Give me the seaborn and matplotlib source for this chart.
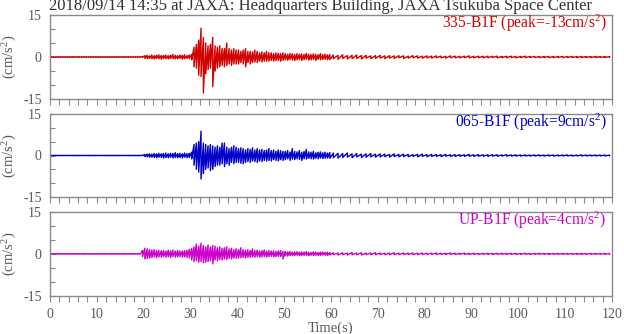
import numpy as np
import pandas as pd
import matplotlib
matplotlib.use("Agg")
import matplotlib.pyplot as plt
import seaborn as sns
from matplotlib.ticker import MultipleLocator, FixedLocator

# ---------------- data (envelope reads, cm/s^2) ----------------
# active part: 0.5 s bins from 0 to 60 s (120 bins); tail: 1 s bins from 60 to 120 s (60 bins)
title = "2018/09/14 14:35 at JAXA: Headquarters Building, JAXA Tsukuba Space Center"
names = ["335-B1F (peak=-13cm/s$^2$)", "065-B1F (peak=9cm/s$^2$)", "UP-B1F (peak=4cm/s$^2$)"]
colors = ["#d20000", "#0000c8", "#cc00cc"]

red_hi = ([0.05] * 40 +
          [0.5, 0.6, 0.4, 0.7, 0.5, 0.6, 0.8, 0.5, 0.6, 0.7, 0.5, 0.6, 0.9, 0.6, 0.5, 0.7, 0.6, 0.8, 0.5, 0.7] +
          [1.0, 3.5, 4.5, 6.0, 10.3, 7.0, 5.0, 4.0, 4.5, 7.0, 4.0, 3.5, 4.0, 3.0, 3.0, 5.0, 3.0, 2.5, 3.0, 2.5] +
          [2.5, 2.0, 2.5, 3.0, 2.0, 2.0, 1.8, 2.5, 2.0, 1.5, 1.8, 1.5, 2.0, 1.5, 1.5, 1.2, 1.5, 1.3, 1.2, 1.5] +
          [1.2, 1.0, 1.3, 1.1, 0.9, 1.2, 1.0, 1.1, 0.9, 1.3, 1.0, 0.9, 1.1, 1.0, 0.8, 1.2, 0.9, 1.0, 0.8, 0.9])
red_lo = ([-0.05] * 40 +
          [-0.5, -0.6, -0.5, -0.6, -0.7, -0.5, -0.6, -0.8, -0.5, -0.6, -0.7, -0.5, -0.6, -0.7, -0.6, -0.5, -0.8, -0.6, -0.5, -0.6] +
          [-1.0, -3.5, -4.0, -6.5, -7.0, -12.8, -6.0, -4.5, -4.0, -10.6, -5.0, -4.0, -3.5, -3.0, -3.5, -3.0, -2.5, -3.0, -2.5, -2.5] +
          [-2.5, -2.0, -2.5, -3.5, -2.0, -2.5, -2.0, -1.8, -2.0, -1.5, -1.8, -1.5, -1.5, -1.5, -1.2, -1.5, -1.3, -1.2, -1.5, -1.2] +
          [-1.0, -1.2, -0.9, -1.1, -1.3, -1.0, -0.9, -1.2, -1.0, -0.8, -1.1, -1.0, -0.9, -1.2, -0.8, -1.0, -0.9, -0.8, -1.0, -0.9])
red_tail_hi = [0.7, 0.6, 0.8, 0.5, 0.6, 0.7, 0.5, 0.6, 0.4, 0.5, 0.6, 0.4, 0.5, 0.4, 0.5, 0.4, 0.3, 0.5, 0.4, 0.3,
               0.4, 0.3, 0.4, 0.3, 0.25, 0.4, 0.3, 0.25, 0.3, 0.4, 0.25, 0.3, 0.25, 0.3, 0.25, 0.3, 0.2, 0.25, 0.3, 0.2,
               0.2, 0.3, 0.2, 0.2, 0.15, 0.2, 0.2, 0.15, 0.2, 0.2, 0.15, 0.2, 0.15, 0.2, 0.15, 0.15, 0.2, 0.15, 0.15, 0.15]
red_tail_lo = [-0.6, -0.8, -0.5, -0.7, -0.6, -0.5, -0.7, -0.4, -0.6, -0.5, -0.4, -0.6, -0.4, -0.5, -0.3, -0.5, -0.4, -0.3, -0.4, -0.4,
               -0.3, -0.4, -0.25, -0.3, -0.4, -0.25, -0.3, -0.3, -0.25, -0.3, -0.3, -0.25, -0.3, -0.25, -0.2, -0.3, -0.2, -0.25, -0.2, -0.3,
               -0.2, -0.2, -0.15, -0.2, -0.2, -0.15, -0.2, -0.2, -0.15, -0.2, -0.15, -0.15, -0.2, -0.15, -0.15, -0.2, -0.15, -0.15, -0.15, -0.15]

blue_hi = ([0.05] * 40 +
           [0.4, 0.5, 0.6, 0.5, 0.7, 0.6, 0.8, 0.6, 0.7, 0.9, 0.6, 0.8, 0.7, 1.0, 0.7, 0.8, 0.6, 0.9, 0.7, 0.8] +
           [1.2, 4.0, 4.5, 5.0, 8.8, 4.5, 4.0, 3.5, 4.0, 3.5, 3.0, 3.5, 3.0, 4.5, 4.5, 3.0, 2.5, 3.0, 3.5, 3.0] +
           [2.5, 2.8, 2.5, 2.0, 2.5, 2.2, 2.8, 2.0, 2.5, 2.0, 2.2, 1.8, 2.0, 2.5, 1.8, 2.0, 1.5, 2.0, 1.8, 1.5] +
           [1.5, 1.8, 1.2, 2.5, 1.5, 1.3, 1.8, 1.2, 1.5, 2.2, 1.3, 1.2, 1.5, 1.0, 1.2, 1.3, 1.0, 1.2, 0.9, 1.1])
blue_lo = ([-0.05] * 40 +
           [-0.4, -0.5, -0.6, -0.6, -0.7, -0.8, -0.6, -0.7, -0.9, -0.7, -0.8, -0.6, -0.9, -0.7, -0.8, -0.7, -0.9, -0.6, -0.8, -0.7] +
           [-1.2, -3.5, -5.0, -6.0, -8.5, -6.5, -5.0, -4.5, -5.5, -5.0, -4.0, -3.5, -3.5, -3.0, -4.0, -3.0, -3.5, -2.5, -3.0, -2.5] +
           [-2.5, -2.8, -3.0, -2.5, -2.2, -2.5, -2.0, -2.2, -2.5, -2.0, -2.2, -1.8, -2.0, -1.8, -2.0, -1.5, -1.8, -2.0, -1.5, -1.8] +
           [-1.5, -1.2, -1.8, -1.3, -1.5, -1.2, -1.4, -1.8, -1.2, -1.3, -1.0, -1.2, -1.3, -1.0, -1.2, -0.9, -1.1, -1.0, -0.9, -1.0])
blue_tail_hi = [0.9, 0.8, 0.7, 0.9, 0.6, 0.7, 0.5, 0.6, 0.7, 0.5, 0.6, 0.5, 0.4, 0.6, 0.4, 0.5, 0.4, 0.3, 0.4, 0.5,
                0.3, 0.4, 0.3, 0.3, 0.4, 0.25, 0.3, 0.3, 0.25, 0.4, 0.25, 0.3, 0.25, 0.25, 0.3, 0.25, 0.2, 0.3, 0.2, 0.2,
                0.2, 0.2, 0.15, 0.2, 0.2, 0.15, 0.2, 0.2, 0.15, 0.15, 0.2, 0.15, 0.15, 0.2, 0.15, 0.15, 0.15, 0.15, 0.15, 0.15]
blue_tail_lo = [-0.8, -0.9, -0.7, -0.6, -0.8, -0.5, -0.7, -0.6, -0.5, -0.6, -0.5, -0.4, -0.6, -0.4, -0.5, -0.4, -0.4, -0.3, -0.5, -0.3,
                -0.4, -0.3, -0.3, -0.4, -0.25, -0.3, -0.3, -0.25, -0.3, -0.25, -0.3, -0.25, -0.25, -0.3, -0.2, -0.25, -0.2, -0.2, -0.2, -0.2,
                -0.2, -0.15, -0.2, -0.2, -0.15, -0.2, -0.15, -0.2, -0.15, -0.15, -0.15, -0.2, -0.15, -0.15, -0.15, -0.15, -0.15, -0.15, -0.15, -0.15]

mag_hi = ([0.05] * 39 + [1.2] +
          [2.0, 1.8, 1.6, 1.4, 1.5, 1.2, 1.3, 1.1, 1.2, 1.0, 1.3, 1.1, 1.4, 1.0, 1.2, 1.1, 1.0, 1.2, 1.3, 1.6] +
          [2.0, 2.5, 3.5, 2.8, 3.8, 3.0, 2.5, 3.2, 2.5, 3.0, 2.8, 2.2, 2.5, 2.0, 2.2, 2.5, 1.8, 2.0, 1.5, 1.8] +
          [1.5, 2.2, 1.5, 1.3, 1.5, 1.2, 1.8, 1.2, 1.3, 1.0, 1.2, 1.4, 1.0, 1.2, 1.0, 1.1, 0.9, 1.0, 1.2, 0.9] +
          [0.8, 0.7, 0.9, 0.6, 0.7, 0.8, 0.6, 0.7, 0.6, 0.8, 0.6, 0.5, 0.7, 0.6, 0.5, 0.6, 0.7, 0.5, 0.6, 0.5])
mag_lo = ([-0.05] * 39 + [-1.0] +
          [-1.8, -1.7, -1.5, -1.3, -1.2, -1.4, -1.1, -1.2, -1.0, -1.2, -1.1, -1.3, -1.0, -1.2, -1.1, -1.0, -1.2, -1.1, -1.3, -1.5] +
          [-2.2, -2.8, -2.5, -3.0, -2.8, -3.2, -3.0, -2.8, -2.5, -3.6, -2.2, -2.5, -2.0, -2.2, -1.8, -2.0, -1.6, -1.8, -1.5, -1.6] +
          [-1.5, -1.4, -1.3, -1.5, -1.2, -1.3, -1.1, -1.2, -1.0, -1.2, -1.1, -1.0, -1.2, -1.0, -0.9, -1.1, -1.0, -0.9, -1.0, -1.8] +
          [-0.7, -0.8, -0.6, -0.7, -0.6, -0.5, -0.7, -0.6, -0.5, -0.6, -0.7, -0.5, -0.6, -0.5, -0.6, -0.5, -0.4, -0.5, -0.6, -0.4])
mag_tail_hi = [0.4, 0.3, 0.4, 0.3, 0.5, 0.3, 0.4, 0.3, 0.3, 0.4, 0.3, 0.25, 0.3, 0.4, 0.25, 0.3, 0.25, 0.3, 0.25, 0.3,
               0.25, 0.25, 0.3, 0.25, 0.2, 0.3, 0.25, 0.2, 0.25, 0.2, 0.2, 0.15, 0.2, 0.2, 0.15, 0.2, 0.2, 0.15, 0.2, 0.15,
               0.15, 0.2, 0.15, 0.15, 0.2, 0.15, 0.15, 0.15, 0.15, 0.15, 0.15, 0.15, 0.15, 0.15, 0.15, 0.15, 0.15, 0.15, 0.15, 0.15]
mag_tail_lo = [-0.3, -0.4, -0.3, -0.4, -0.3, -0.3, -0.4, -0.25, -0.3, -0.3, -0.25, -0.3, -0.3, -0.25, -0.3, -0.25, -0.25, -0.3, -0.25, -0.25,
               -0.25, -0.2, -0.25, -0.2, -0.2, -0.25, -0.2, -0.15, -0.2, -0.2, -0.15, -0.2, -0.15, -0.15, -0.2, -0.15, -0.15, -0.15, -0.15, -0.15,
               -0.15, -0.15, -0.15, -0.15, -0.15, -0.15, -0.15, -0.15, -0.15, -0.15, -0.15, -0.15, -0.15, -0.15, -0.15, -0.15, -0.15, -0.15, -0.15, -0.15]

x_ticks = [0, 10, 20, 30, 40, 50, 60, 70, 80, 90, 100, 110, 120]
y_ticks = [-15, 0, 15]

# ---------------- style ----------------
sns.set_theme(style="ticks")
plt.rcParams["font.family"] = ["Liberation Serif", "DejaVu Serif"]
plt.rcParams["mathtext.fontset"] = "custom"
plt.rcParams["mathtext.rm"] = "Liberation Serif"
plt.rcParams["mathtext.default"] = "regular"

GRAY = "#8a8a8a"
TXT = "#5a5a5a"


def build(hi, lo, thi, tlo):
    # per-bin max/min drawn as a vertical stroke at the bin centre, strokes joined
    starts = np.concatenate([np.arange(0, 60, 0.5), np.arange(60, 120, 1.0)])
    widths = np.concatenate([np.full(120, 0.5), np.full(60, 1.0)])
    centres = starts + widths / 2
    h = np.array(hi + thi)
    l = np.array(lo + tlo)
    x = np.repeat(centres, 2)
    y = np.empty(2 * len(starts))
    y[0::2] = h
    y[1::2] = l
    return pd.DataFrame({"t": x, "a": y})


traces = [build(red_hi, red_lo, red_tail_hi, red_tail_lo),
          build(blue_hi, blue_lo, blue_tail_hi, blue_tail_lo),
          build(mag_hi, mag_lo, mag_tail_hi, mag_tail_lo)]

W, H = 624, 334
fig = plt.figure(figsize=(W / 100, H / 100), dpi=100)
panels = [(15, 99), (114, 197), (212, 295.7)]
left, right = 50, 612

for i, (df, (top, bot)) in enumerate(zip(traces, panels)):
    ax = fig.add_axes([left / W, 1 - bot / H, (right - left) / W, (bot - top) / H])
    sns.lineplot(data=df, x="t", y="a", ax=ax, color=colors[i], linewidth=1.0,
                 estimator=None, sort=False)
    ax.set_xlim(0, 120)
    ax.set_ylim(-15, 15)
    for s in ax.spines.values():
        s.set_color(GRAY)
        s.set_linewidth(1.0)
    ax.xaxis.set_major_locator(FixedLocator(x_ticks))
    ax.xaxis.set_minor_locator(MultipleLocator(2))
    ax.yaxis.set_major_locator(FixedLocator(y_ticks))
    ax.yaxis.set_minor_locator(MultipleLocator(5))
    ax.tick_params(axis="x", which="both", direction="out", length=4.5, width=0.8,
                   color=GRAY, labelcolor=TXT, labelsize=10, pad=4)
    ax.tick_params(axis="y", which="both", direction="in", length=3.5, width=0.8,
                   color=GRAY, labelcolor=TXT, labelsize=10, pad=6)
    ax.set_yticklabels([str(v) for v in y_ticks])
    ax.set_ylabel("")
    if i < 2:
        ax.tick_params(axis="x", labelbottom=False)
        ax.set_xlabel("")
    else:
        ax.set_xticklabels([str(v) for v in x_ticks])
        ax.set_xlabel("Time(s)", color=TXT, fontsize=10.5, labelpad=1)
    fig.text(10 / W, 1 - (top + bot) / 2 / H, "(cm/s$^2$)", rotation=90, ha="center",
             va="center", color=TXT, fontsize=10.5)
    ax.text(0.99, 0.9, names[i], transform=ax.transAxes, ha="right", va="center",
            color=colors[i], fontsize=11.2)

fig.text(321 / W, 1 - 6.5 / H, title, ha="center", va="center",
         color="#333333", fontsize=12)

fig.savefig("out.png", dpi=100)
